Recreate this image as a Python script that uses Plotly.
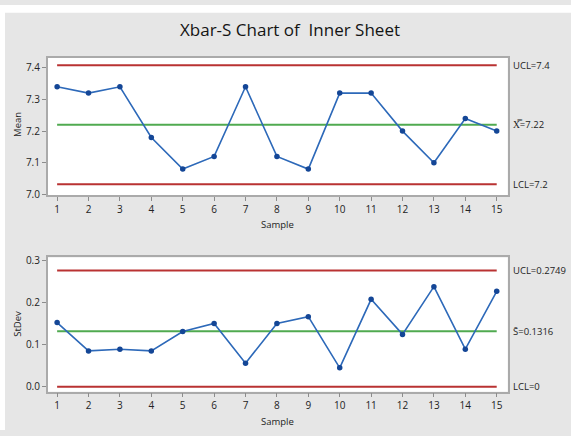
import plotly.graph_objects as go

samples = list(range(1, 16))
means = [7.34, 7.32, 7.34, 7.18, 7.08, 7.12, 7.34, 7.12, 7.08, 7.32, 7.32, 7.20, 7.10, 7.24, 7.20]
stdevs = [0.152, 0.085, 0.089, 0.085, 0.131, 0.150, 0.056, 0.150, 0.166, 0.045, 0.207, 0.124, 0.237, 0.089, 0.226]

mean_limits = {"UCL": 7.408, "CL": 7.22, "LCL": 7.032}
sd_limits = {"UCL": 0.2749, "CL": 0.1316, "LCL": 0.0}
mean_labels = ["UCL=7.4", "X\u033f=7.22", "LCL=7.2"]
sd_labels = ["UCL=0.2749", "S\u0304=0.1316", "LCL=0"]
mean_ticks = [7.0, 7.1, 7.2, 7.3, 7.4]
sd_ticks = [0.0, 0.1, 0.2, 0.3]

W, H = 571, 436
RED = "rgb(185,50,50)"
GREEN = "rgb(80,170,80)"
BLUE_LINE = "rgb(45,105,185)"
BLUE_MK = "rgb(20,70,150)"
FONT = "Open Sans"
LFONT = "Open Sans"
TXT = "rgb(35,35,35)"

fig = go.Figure()

def add_chart(xa, ya, vals, lims):
    for key, col in (("UCL", RED), ("LCL", RED), ("CL", GREEN)):
        fig.add_trace(go.Scatter(x=[samples[0], samples[-1]], y=[lims[key]] * 2, mode="lines",
                                 line=dict(color=col, width=2), xaxis=xa, yaxis=ya,
                                 hoverinfo="skip", showlegend=False))
    fig.add_trace(go.Scatter(x=samples, y=vals, mode="lines+markers",
                             line=dict(color=BLUE_LINE, width=1.6),
                             marker=dict(color=BLUE_MK, size=5.5),
                             xaxis=xa, yaxis=ya, showlegend=False))

add_chart("x", "y", means, mean_limits)
add_chart("x2", "y2", stdevs, sd_limits)

xdom = [47.7 / W, 507.7 / W]
ax_common = dict(showgrid=False, zeroline=False, showline=True, mirror=True,
                 linecolor="rgb(170,170,170)", linewidth=1.5, ticks="outside",
                 ticklen=4, tickcolor="rgb(140,140,140)",
                 tickfont=dict(family=FONT, size=10, color=TXT))

fig.update_layout(
    width=W, height=H,
    margin=dict(l=0, r=0, t=0, b=0),
    paper_bgcolor="rgb(230,230,230)",
    plot_bgcolor="white",
    xaxis=dict(domain=xdom, range=[0.70, 15.35], tickvals=samples, anchor="y", **ax_common),
    yaxis=dict(domain=[1 - 195 / H, 1 - 54 / H], range=[6.998, 7.432], tickvals=mean_ticks,
               tickformat=".1f", anchor="x", **ax_common),
    xaxis2=dict(domain=xdom, range=[0.70, 15.35], tickvals=samples, anchor="y2", **ax_common),
    yaxis2=dict(domain=[1 - 396.7 / H, 1 - 259 / H], range=[-0.0115, 0.306], tickvals=sd_ticks,
                tickformat=".1f", anchor="x2", **ax_common),
    shapes=[
        dict(type="rect", xref="paper", yref="paper", x0=0, x1=1, y0=1 - 8 / H, y1=1,
             fillcolor="white", line=dict(width=0), layer="below"),
        dict(type="rect", xref="paper", yref="paper", x0=0, x1=5 / W, y0=0, y1=1,
             fillcolor="white", line=dict(width=0), layer="below"),
    ],
)

ann = []
ann.append(dict(text="Xbar-S Chart of  Inner Sheet", xref="paper", yref="paper",
                x=290 / W, y=1 - 25 / H, xanchor="center", yanchor="middle", showarrow=False,
                font=dict(family=FONT, size=17, color="rgb(20,20,20)")))
for txt, x, y, ang in (("Mean", 18, 123, -90), ("StDev", 18, 327, -90),
                       ("Sample", 277, 225, 0), ("Sample", 277, 427, 0)):
    ann.append(dict(text=txt, xref="paper", yref="paper", x=x / W, y=1 - y / H,
                    xanchor="center", yanchor="middle", textangle=ang, showarrow=False,
                    font=dict(family=FONT, size=9.5, color=TXT)))

for lab, key in zip(mean_labels, ["UCL", "CL", "LCL"]):
    ann.append(dict(text=lab, xref="paper", yref="y", x=511 / W, y=mean_limits[key],
                    xanchor="left", yanchor="middle", showarrow=False,
                    font=dict(family=LFONT, size=9.5, color=TXT)))
for lab, key in zip(sd_labels, ["UCL", "CL", "LCL"]):
    ann.append(dict(text=lab, xref="paper", yref="y2", x=511 / W, y=sd_limits[key],
                    xanchor="left", yanchor="middle", showarrow=False,
                    font=dict(family=LFONT, size=9.5, color=TXT)))
fig.update_layout(annotations=ann)

fig.write_html("out.html", config={"displayModeBar": False},
               post_script="document.body.style.margin='0';")
